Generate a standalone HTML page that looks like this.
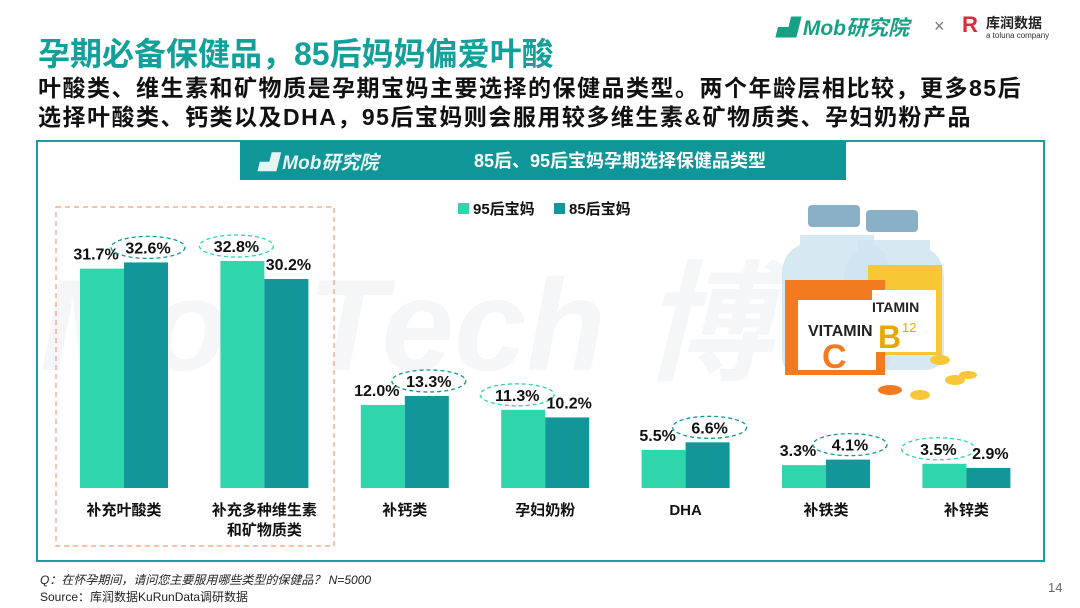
<!DOCTYPE html>
<html><head><meta charset="utf-8">
<style>
body{margin:0;width:1080px;height:608px;background:#fff;overflow:hidden;font-family:"Liberation Sans","Noto Sans CJK SC",sans-serif;position:relative}
.abs{position:absolute}
</style></head><body>
<div class="abs" style="left:38px;top:29px;font-size:32px;font-weight:bold;color:#13a09a">孕期必备保健品，85后妈妈偏爱叶酸</div>
<div class="abs" style="left:38px;top:74px;font-size:23px;letter-spacing:1.5px;font-weight:bold;color:#111;line-height:29px;width:1040px;white-space:nowrap">叶酸类、维生素和矿物质是孕期宝妈主要选择的保健品类型。两个年龄层相比较，更多85后<br>选择叶酸类、钙类以及DHA，95后宝妈则会服用较多维生素&amp;矿物质类、孕妇奶粉产品</div>
<div class="abs" style="left:776px;top:12px;font-size:21px;font-weight:bold;font-style:italic;color:#17a184">▟ Mob研究院</div>
<div class="abs" style="left:934px;top:16px;font-size:18px;color:#777">×</div>
<div class="abs" style="left:962px;top:12px;font-size:22px;font-weight:bold;color:#e0283a">R</div>
<div class="abs" style="left:986px;top:13px;font-size:14px;font-weight:bold;color:#222">库润数据</div>
<div class="abs" style="left:986px;top:31px;font-size:8px;color:#333">a toluna company</div>
<svg class="abs" style="left:0;top:0" width="1080" height="608">
<rect x="37" y="141" width="1007" height="420" fill="none" stroke="#1a9f9f" stroke-width="2"/>
<text x="40" y="370" font-size="130" font-weight="bold" font-style="italic" fill="#f5f6f8">MobTech 博</text>
<rect x="240" y="141" width="606" height="39" fill="#0e9698"/>
<text x="258" y="169" font-size="19" font-weight="bold" font-style="italic" fill="#e6f4f4">▟ Mob研究院</text>
<text x="620" y="167" font-size="18" font-weight="bold" fill="#fff" text-anchor="middle">85后、95后宝妈孕期选择保健品类型</text>
<rect x="56" y="207" width="278" height="339" fill="none" stroke="#f79a7a" stroke-width="1.2" stroke-dasharray="5,4"/>
<rect x="458" y="203" width="11" height="11" fill="#2fd6ac"/>
<text x="473" y="214" font-size="15" font-weight="bold" fill="#111">95后宝妈</text>
<rect x="554" y="203" width="11" height="11" fill="#12969a"/>
<text x="569" y="214" font-size="15" font-weight="bold" fill="#111">85后宝妈</text>
<g id="bars"></g>
<g>
<rect x="808" y="205" width="52" height="22" rx="4" fill="#8ab0c8"/>
<rect x="866" y="210" width="52" height="22" rx="4" fill="#8ab0c8"/>
<path d="M800 235 h74 v10 q16 8 16 30 v80 q0 20 -20 20 h-68 q-20 0 -20 -20 v-80 q0 -22 18 -30z" fill="#cfe4ef" opacity=".85"/>
<path d="M858 240 h72 v10 q14 8 14 30 v70 q0 20 -20 20 h-60 q-20 0 -20 -20 v-70 q0 -22 14 -30z" fill="#cfe4ef" opacity=".85"/>
<rect x="868" y="265" width="74" height="90" fill="#f7c735"/>
<rect x="785" y="280" width="100" height="95" fill="#f47a1f"/>
<rect x="798" y="300" width="78" height="70" fill="#fff"/>
<text x="808" y="336" font-size="16" font-weight="bold" fill="#222">VITAMIN</text>
<text x="822" y="368" font-size="34" font-weight="bold" fill="#f47a1f">C</text>
<rect x="872" y="290" width="64" height="62" fill="#fff"/>
<text x="872" y="312" font-size="14" font-weight="bold" fill="#222">ITAMIN</text>
<text x="878" y="348" font-size="32" font-weight="bold" fill="#e6a800">B</text>
<text x="902" y="332" font-size="13" fill="#e6a800">12</text>
<ellipse cx="890" cy="390" rx="12" ry="5" fill="#f47a1f"/><ellipse cx="920" cy="395" rx="10" ry="5" fill="#f7c735"/>
<ellipse cx="955" cy="380" rx="10" ry="5" fill="#f7c735"/><ellipse cx="968" cy="375" rx="9" ry="4" fill="#f7c735"/>
<ellipse cx="940" cy="360" rx="10" ry="5" fill="#f7c735"/>
</g>
</svg>
<div class="abs" style="left:40px;top:571px;font-size:12px;font-style:italic;color:#222">Q：在怀孕期间，请问您主要服用哪些类型的保健品？ N=5000</div>
<div class="abs" style="left:40px;top:588px;font-size:12px;color:#222">Source：库润数据KuRunData调研数据</div>
<div class="abs" style="left:1048px;top:580px;font-size:13px;color:#666">14</div>
<script>
const categories=["补充叶酸类","补充多种维生素\n和矿物质类","补钙类","孕妇奶粉","DHA","补铁类","补锌类"];
const series95=[31.7,32.8,12.0,11.3,5.5,3.3,3.5];
const series85=[32.6,30.2,13.3,10.2,6.6,4.1,2.9];
const ns="http://www.w3.org/2000/svg";
const g=document.getElementById('bars');
const base=488,k=6.92,x0=124,step=140.4,bw=44;
const y=v=>base-v*k;
const cx=i=>x0+i*step;
function mk(t,a){const e=document.createElementNS(ns,t);for(const n in a)e.setAttribute(n,a[n]);g.appendChild(e);return e;}
categories.forEach((c,i)=>{
  const vals=[series95[i],series85[i]],cols=["#2fd6ac","#12969a"];
  const win=vals[0]>vals[1]?0:1;
  vals.forEach((v,j)=>{
    const bx=cx(i)-bw+j*bw;
    const r=mk('rect',{x:bx,y:y(v),width:bw,height:v*k,fill:cols[j]});
    
    
    const lx=bx+bw/2+(j?2:-6);
    if(j===win){
      const el=mk('ellipse',{cx:lx,cy:y(v)-15,rx:37,ry:11,fill:'none',stroke:cols[j],'stroke-width':1.3,'stroke-dasharray':'4,3'});
      
      
    }
    const t=mk('text',{x:lx,y:y(v)-9,'font-size':16,'font-weight':'bold','text-anchor':'middle',fill:'#111'});
    t.textContent=v.toFixed(1)+'%';
    
    
  });
  c.split('\n').forEach((line,li)=>{
    const t=mk('text',{x:cx(i),y:515+li*20,'font-size':15,'font-weight':'bold','text-anchor':'middle',fill:'#111'});
    t.textContent=line;
    
    
  });
});
</script>
</body></html>
